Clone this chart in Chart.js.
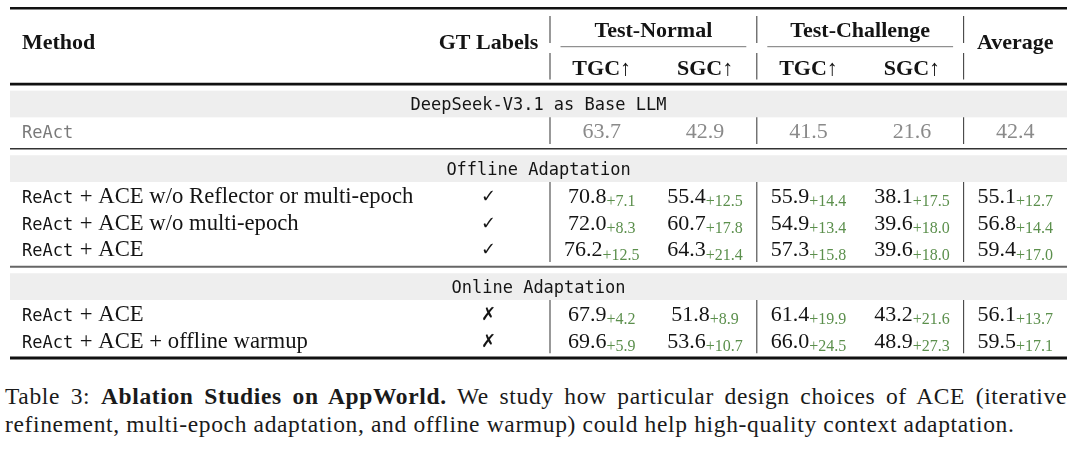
<!DOCTYPE html>
<html>
<head>
<meta charset="utf-8">
<script src="https://cdn.jsdelivr.net/npm/chart.js@4.4.1/dist/chart.umd.min.js"></script>
<style>
  body { margin: 0; background: #fff; }
  #wrap { position: relative; width: 1080px; height: 451px; overflow: hidden; }
  #table { position: absolute; left: 0; top: 0; }
  #caption {
    position: absolute; left: 5px; top: 382px; width: 1062px;
    font-family: "Liberation Serif", serif; font-size: 23.5px; line-height: 28px;
    letter-spacing: 0.65px; color: #1a1a1a;
  }
  #caption .l1 { text-align: justify; text-align-last: justify; }
</style>
</head>
<body>
<div id="wrap">
  <canvas id="table" width="1080" height="375"></canvas>
  <div id="caption">
    <div class="l1">Table 3: <b>Ablation Studies on AppWorld.</b> We study how particular design choices of ACE (iterative</div>
    <div>refinement, multi-epoch adaptation, and offline warmup) could help high-quality context adaptation.</div>
  </div>
</div>
<script>
// table content
const columnKeys = ["tgcNormal", "sgcNormal", "tgcChallenge", "sgcChallenge", "average"];
const groupLabels = ["Test-Normal", "Test-Challenge"];
const metricLabels = ["TGC↑", "SGC↑", "TGC↑", "SGC↑"];
const averageLabel = "Average";
const sectionLabels = ["DeepSeek-V3.1 as Base LLM", "Offline Adaptation", "Online Adaptation"];

const methods = [
  "ReAct",
  "ReAct + ACE w/o Reflector or multi-epoch",
  "ReAct + ACE w/o multi-epoch",
  "ReAct + ACE",
  "ReAct + ACE",
  "ReAct + ACE + offline warmup",
];
const rowSection = [0, 1, 1, 1, 2, 2];
const gtLabels = ["", "✓", "✓", "✓", "✗", "✗"];

const tgcNormal = [63.7, 70.8, 72.0, 76.2, 67.9, 69.6];
const sgcNormal = [42.9, 55.4, 60.7, 64.3, 51.8, 53.6];
const tgcChallenge = [41.5, 55.9, 54.9, 57.3, 61.4, 66.0];
const sgcChallenge = [21.6, 38.1, 39.6, 39.6, 43.2, 48.9];
const average = [42.4, 55.1, 56.8, 59.4, 56.1, 59.5];

const tgcNormalGain = [null, 7.1, 8.3, 12.5, 4.2, 5.9];
const sgcNormalGain = [null, 12.5, 17.8, 21.4, 8.9, 10.7];
const tgcChallengeGain = [null, 14.4, 13.4, 15.8, 19.9, 24.5];
const sgcChallengeGain = [null, 17.5, 18.0, 18.0, 21.6, 27.3];
const averageGain = [null, 12.7, 14.4, 17.0, 13.7, 17.1];

const columnValues = [tgcNormal, sgcNormal, tgcChallenge, sgcChallenge, average];
const columnGains = [tgcNormalGain, sgcNormalGain, tgcChallengeGain, sgcChallengeGain, averageGain];

// row layout (in row units) - sections get a little extra gap
const GROUP_GAP = 0.42;
const sectionPos = [];
const rowPos = [];
let slot = 0;
sectionLabels.forEach((s, si) => {
  sectionPos.push(slot + si * GROUP_GAP);
  slot++;
  rowSection.forEach((rs, ri) => {
    if (rs === si) {
      rowPos[ri] = slot + si * GROUP_GAP;
      slot++;
    }
  });
});

const SERIF = '"Liberation Serif", serif';
const MONO = '"DejaVu Sans Mono", monospace';
const INK = "#141414";
const GREY = "#8a8a8a";
const GREEN = "#5b8f4c";
const BAND = "#eeeeee";
const TABLE_LEFT = 10;
const METHOD_X = 22;
const GT_X = 488.5;
const BASE = 7.5; // text baseline below row centre

function drawMethod(ctx, text, x, y, grey) {
  ctx.textAlign = "left";
  ctx.fillStyle = grey ? "#7a7a7a" : INK;
  let rest = text;
  if (text.startsWith("ReAct")) {
    ctx.font = "17px " + MONO;
    ctx.fillText("ReAct", x, y);
    x += ctx.measureText("ReAct").width;
    rest = text.slice(5);
  }
  if (rest) {
    ctx.font = "22.7px " + SERIF;
    ctx.fillText(rest, x + 1, y);
  }
}

function drawCell(ctx, cx, y, value, gain) {
  const main = value.toFixed(1);
  ctx.textAlign = "left";
  ctx.font = "22px " + SERIF;
  const wMain = ctx.measureText(main).width;
  let sub = "", wSub = 0;
  if (gain !== null) {
    sub = "+" + gain.toFixed(1);
    ctx.font = "16px " + SERIF;
    wSub = ctx.measureText(sub).width;
  }
  const x0 = cx - (wMain + wSub) / 2;
  ctx.font = "22px " + SERIF;
  ctx.fillStyle = gain === null ? GREY : INK;
  ctx.fillText(main, x0, y);
  if (sub) {
    ctx.font = "16px " + SERIF;
    ctx.fillStyle = GREEN;
    ctx.fillText(sub, x0 + wMain, y + 3.5);
  }
}

function hline(ctx, x1, x2, y, w, color) {
  ctx.strokeStyle = color;
  ctx.lineWidth = w;
  ctx.beginPath();
  ctx.moveTo(x1, y);
  ctx.lineTo(x2, y);
  ctx.stroke();
}

function vline(ctx, x, y1, y2) {
  ctx.strokeStyle = "#444";
  ctx.lineWidth = 1.1;
  ctx.beginPath();
  ctx.moveTo(x, y1);
  ctx.lineTo(x, y2);
  ctx.stroke();
}

const tablePlugin = {
  id: "tablePlugin",
  beforeDatasetsDraw(chart) {
    const ctx = chart.ctx;
    const xs = chart.scales.x;
    const ys = chart.scales.y;
    const right = chart.chartArea.right;
    const colW = xs.getPixelForValue(1) - xs.getPixelForValue(0);
    const edge = i => xs.getPixelForValue(i) - colW / 2;
    const top = chart.chartArea.top;
    ctx.save();

    // header
    hline(ctx, TABLE_LEFT, right, top + 8.3, 2.4, "#111");
    ctx.fillStyle = INK;
    ctx.font = "bold 22px " + SERIF;
    ctx.textAlign = "left";
    ctx.fillText("Method", METHOD_X, top + 48.5);
    ctx.textAlign = "center";
    ctx.fillText("GT Labels", GT_X, top + 48.5);
    ctx.fillText(averageLabel, xs.getPixelForValue(4), top + 48.5);
    groupLabels.forEach((g, gi) => {
      const c = edge(gi * 2) + colW;
      ctx.fillText(g, c, top + 37);
      hline(ctx, edge(gi * 2) + 10.5, edge(gi * 2) + 2 * colW - 10.5, top + 46.7, 1, "#777");
    });
    metricLabels.forEach((m, mi) => {
      ctx.fillText(m, xs.getPixelForValue(mi), top + 75);
    });
    [0, 2, 4].forEach(i => {
      vline(ctx, edge(i), top + 16, top + 43);
      vline(ctx, edge(i), top + 53, top + 79.5);
    });

    // section bands, rules and column lines
    sectionLabels.forEach((s, si) => {
      const yTop = ys.getPixelForValue(sectionPos[si] - 0.5);
      const yBot = ys.getPixelForValue(sectionPos[si] + 0.5);
      ctx.fillStyle = BAND;
      ctx.fillRect(TABLE_LEFT, yTop, right - TABLE_LEFT, yBot - yTop);
      if (si === 0) hline(ctx, TABLE_LEFT, right, yTop - 6.5, 2.6, "#111");
      else if (si === 1) hline(ctx, TABLE_LEFT, right, yTop - 6.5, 1.3, "#333");
      else hline(ctx, TABLE_LEFT, right, yTop - 6.5, 2, "#666");
      ctx.fillStyle = INK;
      ctx.font = "17px " + MONO;
      ctx.textAlign = "center";
      ctx.fillText(s, (TABLE_LEFT + right) / 2, ys.getPixelForValue(sectionPos[si]) + 6.3);

      const rows = rowPos.filter((p, ri) => rowSection[ri] === si);
      const yEnd = ys.getPixelForValue(rows[rows.length - 1] + 0.5);
      [0, 2, 4].forEach(i => vline(ctx, edge(i), yBot, yEnd));
    });
    const last = ys.getPixelForValue(rowPos[rowPos.length - 1] + 0.5);
    hline(ctx, TABLE_LEFT, right, last + 4.6, 3, "#111");

    // method names and GT labels
    methods.forEach((m, ri) => {
      const y = ys.getPixelForValue(rowPos[ri]) + BASE;
      drawMethod(ctx, m, METHOD_X, y, ri === 0);
      if (gtLabels[ri]) {
        ctx.font = "18px \"DejaVu Sans\"";
        ctx.textAlign = "center";
        ctx.fillStyle = INK;
        ctx.fillText(gtLabels[ri], GT_X, y - 1);
      }
    });
    ctx.restore();
  },
  afterDatasetsDraw(chart) {
    const ctx = chart.ctx;
    ctx.save();
    chart.data.datasets.forEach((ds, ri) => {
      const meta = chart.getDatasetMeta(ri);
      meta.data.forEach((el, ci) => {
        const p = ds.data[ci];
        drawCell(ctx, el.x, el.y + BASE, p.value, p.gain);
      });
    });
    ctx.restore();
  },
};

const datasets = methods.map((m, ri) => ({
  label: m,
  data: columnKeys.map((k, ci) => ({
    x: k,
    y: rowPos[ri],
    value: columnValues[ci][ri],
    gain: columnGains[ci][ri],
  })),
  pointRadius: 0,
  pointHoverRadius: 0,
  showLine: false,
}));

new Chart(document.getElementById("table"), {
  type: "scatter",
  data: { datasets: datasets },
  options: {
    responsive: false,
    animation: false,
    events: [],
    layout: { padding: { left: 550, right: 13, top: 0, bottom: 0 } },
    plugins: {
      legend: { display: false },
      tooltip: { enabled: false },
    },
    scales: {
      x: {
        type: "category",
        labels: columnKeys,
        offset: true,
        display: false,
      },
      y: {
        type: "linear",
        reverse: true,
        min: -3.895,
        max: 10.15,
        display: false,
      },
    },
  },
  plugins: [tablePlugin],
});
</script>
</body>
</html>
